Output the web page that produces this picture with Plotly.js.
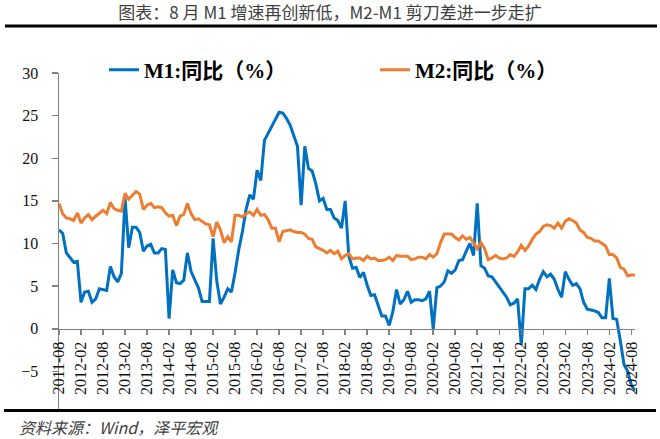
<!DOCTYPE html>
<html>
<head>
<meta charset="utf-8">
<script src="https://cdn.plot.ly/plotly-3.0.1.min.js"></script>
<style>
  html, body { margin: 0; padding: 0; background: #fff; }
  #chart { width: 660px; height: 439px; }
</style>
</head>
<body>
<div id="chart"></div>
<script>
// M1 / M2 同比 (%), monthly, 2011-07 .. 2024-08
const m1Yoy = [
  11.6, 11.2, 8.9, 8.4, 7.8, 7.9,                                  // 2011-07..12
  3.1, 4.3, 4.4, 3.1, 3.5, 4.7, 4.6, 4.5, 7.3, 6.1, 5.5, 6.5,      // 2012
  15.3, 9.5, 11.9, 11.9, 11.3, 9.1, 9.7, 9.9, 8.9, 8.9, 9.4, 9.3,  // 2013
  1.2, 6.9, 5.4, 5.3, 5.7, 8.9, 6.7, 5.7, 4.8, 3.2, 3.2, 3.2,      // 2014
  10.6, 5.6, 2.9, 3.7, 4.7, 4.3, 6.6, 9.3, 11.4, 14.0, 15.7, 15.2, // 2015
  18.6, 17.4, 22.1, 22.9, 23.7, 24.6, 25.4, 25.3, 24.7, 23.9, 22.7, 21.4, // 2016
  14.5, 21.4, 18.8, 18.5, 17.0, 15.0, 15.3, 14.0, 14.0, 13.0, 12.7, 11.8, // 2017
  15.0, 8.5, 7.1, 7.2, 6.0, 6.6, 5.1, 3.9, 4.0, 2.7, 1.5, 1.5,     // 2018
  0.4, 2.0, 4.6, 2.9, 3.4, 4.4, 3.1, 3.4, 3.4, 3.3, 3.5, 4.4,      // 2019
  0.0, 4.8, 5.0, 5.5, 6.8, 6.5, 6.9, 8.0, 8.1, 9.1, 10.0, 8.6,     // 2020
  14.7, 7.4, 7.1, 6.2, 6.1, 5.5, 4.9, 4.2, 3.7, 2.8, 3.0, 3.5,     // 2021
  -1.9, 4.7, 4.7, 5.1, 4.6, 5.8, 6.7, 6.1, 6.4, 5.8, 4.6, 3.7,     // 2022
  6.7, 5.8, 5.1, 5.3, 4.7, 3.1, 2.3, 2.2, 2.1, 1.9, 1.3, 1.3,      // 2023
  5.9, 1.2, 1.1, -1.4, -4.2, -5.0, -6.6, -7.3                      // 2024-01..08
];
const m2Yoy = [
  14.7, 13.5, 13.0, 12.9, 12.7, 13.6,
  12.4, 13.0, 13.4, 12.8, 13.2, 13.6, 13.9, 13.5, 14.8, 14.1, 13.9, 13.8,
  15.9, 15.2, 15.7, 16.1, 15.8, 14.0, 14.5, 14.7, 14.2, 14.3, 14.2, 13.6,
  13.2, 13.3, 12.1, 13.2, 13.4, 14.7, 13.5, 12.8, 12.9, 12.6, 12.3, 12.2,
  10.8, 12.5, 11.6, 10.1, 10.8, 10.2, 13.3, 13.3, 13.1, 13.5, 13.7, 13.3,
  14.0, 13.3, 13.4, 12.8, 11.8, 11.8, 10.2, 11.4, 11.5, 11.6, 11.4, 11.3,
  11.3, 11.1, 10.6, 10.5, 9.6, 9.4, 9.2, 8.9, 9.2, 8.8, 9.1, 8.2,
  8.6, 8.8, 8.2, 8.3, 8.3, 8.0, 8.5, 8.2, 8.3, 8.0, 8.0, 8.1,
  8.4, 8.0, 8.6, 8.5, 8.5, 8.5, 8.1, 8.2, 8.4, 8.4, 8.2, 8.7,
  8.4, 8.8, 10.1, 11.1, 11.1, 11.1, 10.7, 10.4, 10.9, 10.5, 10.7, 10.1,
  9.4, 10.1, 9.4, 8.1, 8.3, 8.6, 8.3, 8.2, 8.3, 8.7, 8.5, 9.0,
  9.8, 9.2, 9.7, 10.5, 11.1, 11.4, 12.0, 12.2, 12.1, 11.8, 12.4, 11.8,
  12.6, 12.9, 12.7, 12.4, 11.6, 11.3, 10.7, 10.6, 10.3, 10.3, 10.0, 9.7,
  8.7, 8.7, 8.3, 7.2, 7.0, 6.2, 6.3, 6.3
];
// axis labels as printed on the source chart, one every 6 points
const tickLabels = [
  '2011-08', '2012-02', '2012-08', '2013-02', '2013-08', '2014-02', '2014-08',
  '2015-02', '2015-08', '2016-02', '2016-08', '2017-02', '2017-08', '2018-02',
  '2018-08', '2019-02', '2019-08', '2020-02', '2020-08', '2021-02', '2021-08',
  '2022-02', '2022-08', '2023-02', '2023-08', '2024-02', '2024-08'
];

const xIdx = m1Yoy.map((_, i) => i);
const tickPos = tickLabels.map((_, i) => i * 6);

const serif = 'Liberation Serif, Times New Roman, serif';
const cjk = 'Noto Sans CJK SC, sans-serif';

// pixel helpers for decoration placed in paper coords
const plotL = 59, plotW = 660 - 59 - 25, plotB = 414, plotH = 414 - 73;
const px = x => (x - plotL) / plotW;
const py = y => (plotB - y) / plotH;

const legendFont = { family: serif + ', ' + cjk, size: 21, color: '#000', weight: 'bold' };

const traces = [
  {
    x: xIdx, y: m1Yoy, type: 'scatter', mode: 'lines', name: 'M1:同比（%）',
    line: { color: '#0070C0', width: 3 }, legend: 'legend'
  },
  {
    x: xIdx, y: m2Yoy, type: 'scatter', mode: 'lines', name: 'M2:同比（%）',
    line: { color: '#ED7D31', width: 3 }, legend: 'legend2'
  }
];

const layout = {
  width: 660, height: 439,
  margin: { l: 59, r: 25, t: 73, b: 25 },
  paper_bgcolor: '#fff', plot_bgcolor: '#fff',
  title: {
    text: '图表：8 月 M1 增速再创新低，M2-M1 剪刀差进一步走扩',
    xref: 'container', x: 0.5, xanchor: 'center',
    yref: 'container', y: 1 - 13 / 439, yanchor: 'middle',
    font: { family: cjk, size: 17, color: '#404040' }
  },
  showlegend: true,
  legend: {
    orientation: 'h', x: px(104), xanchor: 'left', y: py(70), yanchor: 'middle',
    font: legendFont, bgcolor: 'rgba(0,0,0,0)'
  },
  legend2: {
    orientation: 'h', x: px(375), xanchor: 'left', y: py(70), yanchor: 'middle',
    font: legendFont, bgcolor: 'rgba(0,0,0,0)'
  },
  xaxis: {
    range: [0, 157], anchor: 'free', position: 0.25,
    showline: true, linecolor: '#808080', linewidth: 1.5,
    ticks: 'outside', ticklen: 5, tickcolor: '#808080', tickwidth: 1.5,
    tickmode: 'array', tickvals: tickPos, ticktext: tickLabels, tickangle: -90,
    tickfont: { family: serif, size: 16, color: '#111' },
    showgrid: false, zeroline: false, fixedrange: true
  },
  yaxis: {
    range: [-10, 30], dtick: 5, tick0: 0,
    showline: true, linecolor: '#808080', linewidth: 1.5,
    ticks: 'outside', ticklen: 6, tickcolor: '#808080', tickwidth: 1.5,
    ticklabelstandoff: 10,
    tickfont: { family: serif, size: 16, color: '#111' },
    showgrid: false, zeroline: false, fixedrange: true
  },
  shapes: [
    // mask the strip below the bottom rule
    { type: 'rect', xref: 'paper', yref: 'paper', layer: 'above',
      x0: px(0), x1: px(660), y0: py(412), y1: py(439),
      fillcolor: '#fff', line: { width: 0 } },
    { type: 'line', xref: 'paper', yref: 'paper', layer: 'above',
      x0: px(5), x1: px(657), y0: py(26), y1: py(26),
      line: { color: '#000', width: 3 } },
    { type: 'line', xref: 'paper', yref: 'paper', layer: 'above',
      x0: px(4), x1: px(656), y0: py(410.5), y1: py(410.5),
      line: { color: '#000', width: 3 } }
  ],
  annotations: [
    { text: '资料来源：Wind，泽平宏观', showarrow: false,
      xref: 'paper', yref: 'paper', x: px(17), xanchor: 'left', y: py(427), yanchor: 'middle',
      font: { family: cjk, size: 16, color: '#404040', style: 'italic' } }
  ]
};

Plotly.newPlot('chart', traces, layout, { displayModeBar: false, staticPlot: true });
</script>
</body>
</html>
